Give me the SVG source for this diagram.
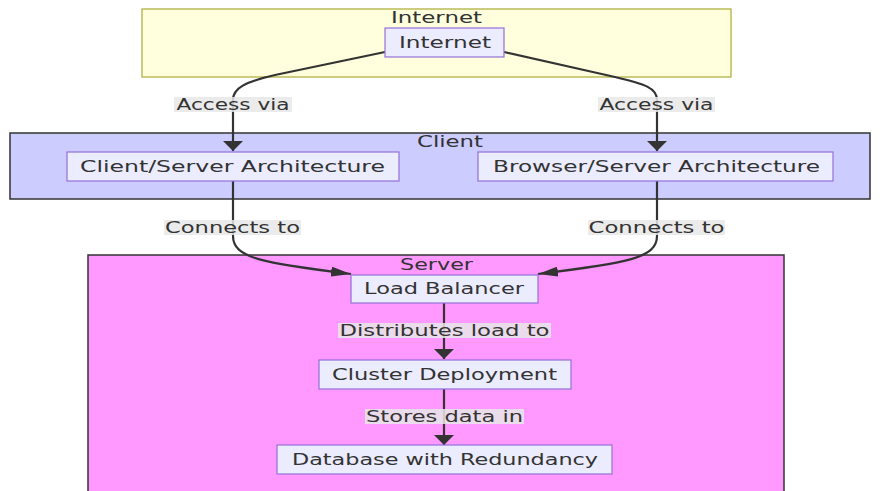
<svg xmlns="http://www.w3.org/2000/svg" width="880" height="491" viewBox="0 0 880 491">
<style>
text{font-family:"DejaVu Sans","Liberation Sans",sans-serif;font-size:15px;fill:#333;dominant-baseline:central;text-anchor:middle}
.node rect{fill:#ececff;stroke:#9370db;stroke-width:1.2}
.edge{fill:none;stroke:#333;stroke-width:2.2}
.lbl rect{fill:#e8e8e8;opacity:0.85}
</style>
<defs>
<marker id="av" viewBox="0 0 10 10" refX="10" refY="5" markerUnits="userSpaceOnUse" markerWidth="10" markerHeight="20" orient="auto" preserveAspectRatio="none"><path d="M0,0 L10,5 L0,10 z" fill="#333"/></marker>
<marker id="ah" viewBox="0 0 10 10" refX="10" refY="5" markerUnits="userSpaceOnUse" markerWidth="20" markerHeight="10" orient="auto" preserveAspectRatio="none"><path d="M0,0 L10,5 L0,10 z" fill="#333"/></marker>
</defs>
<g id="cluster-internet">
<rect x="142" y="9" width="589" height="68" fill="#ffffde" stroke="#aaaa33" stroke-width="1.2"/>
<text x="436.5" y="18" textLength="91" lengthAdjust="spacingAndGlyphs">Internet</text>
</g>
<g id="cluster-client">
<rect x="10" y="133" width="860" height="66" fill="#ccccff" stroke="#333" stroke-width="1.5"/>
<text x="450" y="141.5" textLength="66" lengthAdjust="spacingAndGlyphs">Client</text>
</g>
<g id="cluster-server">
<rect x="88" y="255" width="696" height="250" fill="#ff99ff" stroke="#333" stroke-width="1.5"/>
<text x="436.5" y="264.5" textLength="73" lengthAdjust="spacingAndGlyphs">Server</text>
</g>
<g id="edges">
<path class="edge" d="M385,52 L275,75 C245,82 233,88 233,100 L233,151" marker-end="url(#av)"/>
<path class="edge" d="M504,52 L615,77 C645,84 657,88 657,100 L657,151" marker-end="url(#av)"/>
<path class="edge" d="M233,181 L233,236 C233,258 262,263 351,274" marker-end="url(#ah)"/>
<path class="edge" d="M657,181 L657,236 C657,258 628,263 538,274" marker-end="url(#ah)"/>
<path class="edge" d="M444,303 L444,359" marker-end="url(#av)"/>
<path class="edge" d="M444,389 L444,445" marker-end="url(#av)"/>
<g class="lbl">
<rect x="174" y="97" width="118" height="15"/><text x="233" y="104.5" textLength="113" lengthAdjust="spacingAndGlyphs">Access via</text>
<rect x="598" y="97" width="117" height="15"/><text x="656.5" y="104.5" textLength="114" lengthAdjust="spacingAndGlyphs">Access via</text>
<rect x="164" y="220" width="137" height="15"/><text x="232.5" y="227.5" textLength="135" lengthAdjust="spacingAndGlyphs">Connects to</text>
<rect x="588" y="220" width="137" height="15"/><text x="656.5" y="227.5" textLength="136" lengthAdjust="spacingAndGlyphs">Connects to</text>
<rect x="338" y="323" width="213" height="15"/><text x="444.5" y="330.5" textLength="210" lengthAdjust="spacingAndGlyphs">Distributes load to</text>
<rect x="365" y="409" width="159" height="15"/><text x="444.5" y="416.5" textLength="157" lengthAdjust="spacingAndGlyphs">Stores data in</text>
</g>
</g>
<g id="node-internet" class="node"><rect x="385" y="28" width="119" height="29"/><text x="445" y="42.5" textLength="92" lengthAdjust="spacingAndGlyphs">Internet</text></g>
<g id="node-cs" class="node"><rect x="67" y="152" width="332" height="29"/><text x="232.5" y="166.5" textLength="305" lengthAdjust="spacingAndGlyphs">Client/Server Architecture</text></g>
<g id="node-bs" class="node"><rect x="478" y="152" width="355" height="29"/><text x="656.5" y="166.5" textLength="327" lengthAdjust="spacingAndGlyphs">Browser/Server Architecture</text></g>
<g id="node-lb" class="node"><rect x="351" y="275" width="187" height="28"/><text x="444" y="289" textLength="160" lengthAdjust="spacingAndGlyphs">Load Balancer</text></g>
<g id="node-cd" class="node"><rect x="319" y="360" width="252" height="29"/><text x="444.5" y="374.5" textLength="225" lengthAdjust="spacingAndGlyphs">Cluster Deployment</text></g>
<g id="node-db" class="node"><rect x="277" y="445" width="335" height="29"/><text x="445" y="459.5" textLength="306" lengthAdjust="spacingAndGlyphs">Database with Redundancy</text></g>
</svg>
